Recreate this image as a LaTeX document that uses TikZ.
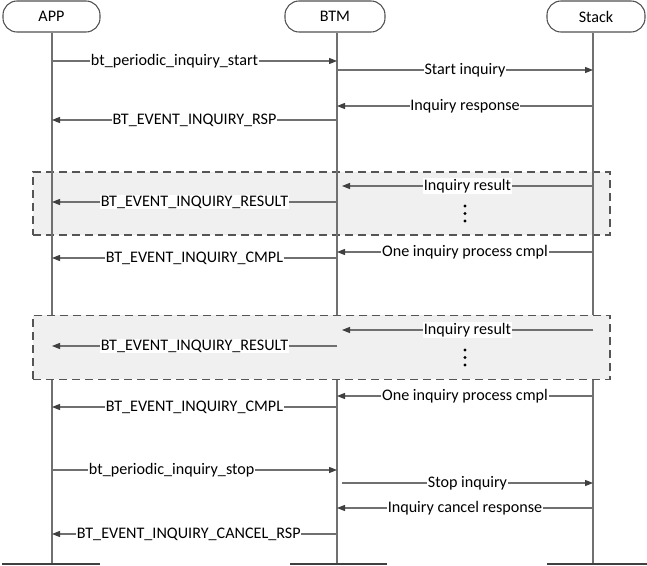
\documentclass[tikz,border=0pt]{standalone}
\usepackage{fontspec}
\setmainfont{Carlito}
\usetikzlibrary{arrows.meta}
\definecolor{hdcol}{HTML}{505050}
\definecolor{lifecol}{HTML}{707070}
\definecolor{msgcol}{HTML}{707070}
\definecolor{tipcol}{HTML}{404040}
\definecolor{grpcol}{HTML}{555555}
\definecolor{grpfill}{HTML}{F0F0F0}
\begin{document}
\begin{tikzpicture}[x=0.75pt,y=-0.75pt,
  txt/.style={font=\fontsize{12.1}{14}\selectfont, text=black},
  head/.style={txt, draw=hdcol, line width=0.8pt, rounded corners=10.5pt, minimum height=23.25pt, inner sep=0pt},
  life/.style={draw=lifecol, line width=0.8pt},
  bar/.style={fill=tipcol, draw=none, minimum height=1.6pt, inner sep=0pt},
  msg/.style={draw=msgcol, line width=0.8pt, -{Triangle[length=6pt,width=4.5pt,color=tipcol]}},
  lbl/.style={txt, fill=white, inner sep=0.5pt},
  grp/.style={draw=grpcol, fill=grpfill, line width=1.1pt, dash pattern=on 6pt off 3.75pt},
  dotm/.style={circle, fill=black, inner sep=0pt, minimum size=2.4pt}
]
\useasboundingbox (0,0) rectangle (647,566);

% headers
\node[head, minimum width=72.75pt] (app) at (51.5,16.5) {APP};
\node[head, minimum width=75pt] (btm) at (335,16.5) {BTM};
\node[head, minimum width=73.5pt] (stk) at (596,16.5) {Stack};

% lifeline x positions
\coordinate (A) at (52,0);
\coordinate (B) at (337,0);
\coordinate (B2) at (342,0);
\coordinate (S) at (593,0);

% bottom bars
\node[bar, minimum width=73.5pt] (appE) at (51,564) {};
\node[bar, minimum width=72.75pt] (btmE) at (338.5,564) {};
\node[bar, minimum width=75pt] (stkE) at (597,564) {};

% first group (lifelines visible through)
\node[grp, minimum width=432.75pt, minimum height=47.25pt, inner sep=0pt] (g1) at (321.5,203.5) {};

% lifelines
\draw[life] (app.south -| A) -- (appE.north -| A);
\draw[life] (btm.south -| B) -- (btmE.north -| B);
\draw[life] (stk.south -| S) -- (stkE.north -| S);

% second group (covers lifelines)
\node[grp, minimum width=432.75pt, minimum height=48pt, inner sep=0pt] (g2) at (321.5,347.5) {};

% messages
\draw[msg] (A|-0,61) -- node[lbl,pos=0.43]{bt\_periodic\_inquiry\_start} (B|-0,61);
\draw[msg] (B|-0,70) -- node[lbl]{Start inquiry} (S|-0,70);
\draw[msg] (S|-0,106) -- node[lbl]{Inquiry response} (B|-0,106);
\draw[msg] (B|-0,120) -- node[lbl]{BT\_EVENT\_INQUIRY\_RSP} (A|-0,120);

\draw[msg] (S|-0,186) -- node[lbl]{Inquiry result} (B2|-0,186);
\draw[msg] (B|-0,202) -- node[lbl]{BT\_EVENT\_INQUIRY\_RESULT} (A|-0,202);
\node[dotm] (d1) at (465,206) {};
\node[dotm] (d2) at (465,213.5) {};
\node[dotm] (d3) at (465,221) {};

\draw[msg] (S|-0,252) -- node[lbl]{One inquiry process cmpl} (B|-0,252);
\draw[msg] (B|-0,258) -- node[lbl]{BT\_EVENT\_INQUIRY\_CMPL} (A|-0,258);

\draw[msg] (S|-0,330) -- node[lbl]{Inquiry result} (B2|-0,330);
\draw[msg] (B|-0,346) -- node[lbl]{BT\_EVENT\_INQUIRY\_RESULT} (A|-0,346);
\node[dotm] (d4) at (465,350) {};
\node[dotm] (d5) at (465,357.5) {};
\node[dotm] (d6) at (465,365) {};

\draw[msg] (S|-0,396) -- node[lbl]{One inquiry process cmpl} (B|-0,396);
\draw[msg] (B|-0,407) -- node[lbl]{BT\_EVENT\_INQUIRY\_CMPL} (A|-0,407);

\draw[msg] (A|-0,470) -- node[lbl,pos=0.42]{bt\_periodic\_inquiry\_stop} (B|-0,470);
\draw[msg] (B2|-0,483) -- node[lbl]{Stop inquiry} (S|-0,483);
\draw[msg] (S|-0,508) -- node[lbl]{Inquiry cancel response} (B|-0,508);
\draw[msg] (B|-0,534) -- node[lbl,pos=0.52]{BT\_EVENT\_INQUIRY\_CANCEL\_RSP} (A|-0,534);
\end{tikzpicture}
\end{document}
